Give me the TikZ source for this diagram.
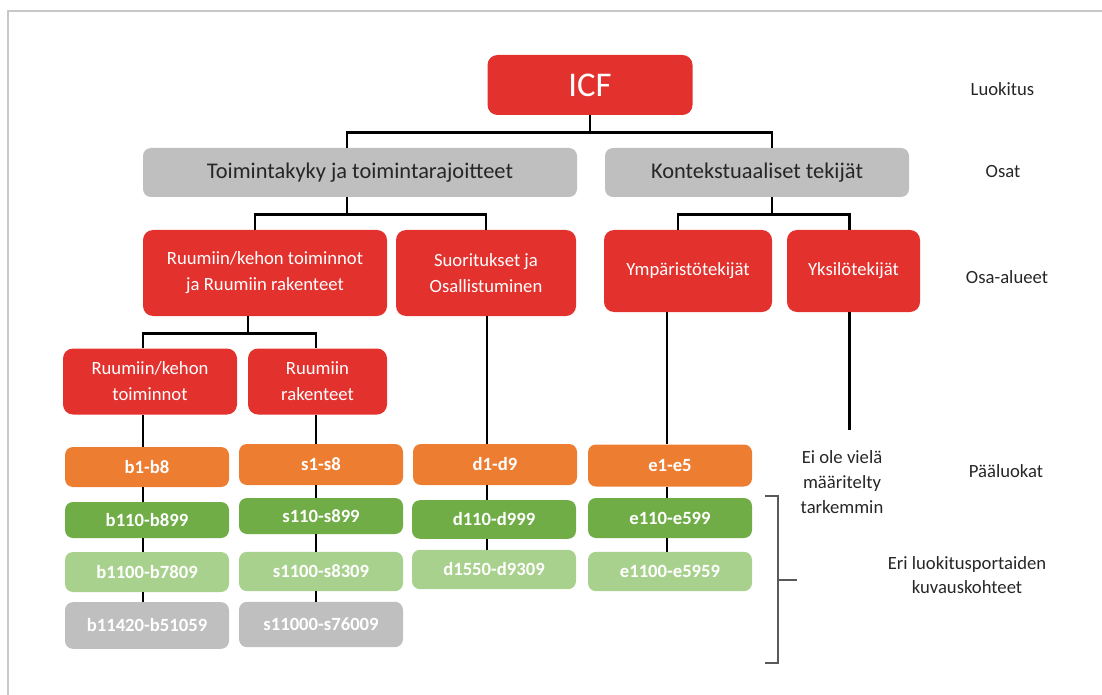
\documentclass[tikz,border=0pt]{standalone}
\usepackage{fontspec}
\setmainfont{Carlito}
\definecolor{icfred}{HTML}{E3312E}
\definecolor{partgray}{HTML}{BFBFBF}
\definecolor{codeorange}{HTML}{ED7D31}
\definecolor{codegreen}{HTML}{70AD47}
\definecolor{codelight}{HTML}{A9D18E}
\definecolor{framegray}{HTML}{C8C8C8}
\tikzset{
  redbox/.style={fill=icfred, text=white, rounded corners=7.5pt, align=center, inner sep=0pt, font=\fontsize{14}{19.5}\selectfont},
  partbox/.style={fill=partgray, text=black!85, rounded corners=6pt, inner sep=0pt, minimum height=36.75pt, font=\fontsize{16.8}{20}\selectfont},
  codebox/.style={rounded corners=6pt, text=white, inner sep=0pt, minimum width=123pt, font=\bfseries\fontsize{14}{17}\selectfont},
  levelname/.style={text=black!85, align=center, font=\fontsize{14}{18.5}\selectfont},
  link/.style={line width=2pt, black},
  bracket/.style={line width=1.5pt, black!65},
}
\begin{document}
\begin{tikzpicture}[x=0.75pt, y=-0.75pt]
  \useasboundingbox (0,0) rectangle (1102,695);
  \draw[framegray, line width=2pt] (8,695) -- (8,11) -- (1102,11);

  % upper levels
  \node[redbox, minimum width=153.75pt, minimum height=45pt, font=\fontsize{26}{30}\selectfont] (icf) at (590,85) {ICF};
  \node[partbox, minimum width=325.5pt] (g1) at (360,172.5) {Toimintakyky ja toimintarajoitteet};
  \node[partbox, minimum width=228pt] (g2) at (757,172.5) {Kontekstuaaliset tekijät};
  \node[redbox, minimum width=183pt, minimum height=64.5pt] (r1) at (265,273) {Ruumiin/kehon toiminnot\\ja Ruumiin rakenteet};
  \node[redbox, minimum width=135pt, minimum height=64.5pt] (r2) at (486,273) {Suoritukset ja\\Osallistuminen};
  \node[redbox, minimum width=126pt, minimum height=61.5pt] (r3) at (688,271) {Ympäristötekijät};
  \node[redbox, minimum width=99.75pt, minimum height=61.5pt] (r4) at (853.5,271) {Yksilötekijät};
  \node[redbox, minimum width=130.5pt, minimum height=49.5pt] (r5) at (150,381.5) {Ruumiin/kehon\\toiminnot};
  \node[redbox, minimum width=104.25pt, minimum height=49.5pt] (r6) at (317.5,381.5) {Ruumiin\\rakenteet};

  % code boxes
  \node[codebox, fill=codeorange, minimum height=30pt] (b1) at (147,467) {b1-b8};
  \node[codebox, fill=codegreen, minimum height=27pt] (b2) at (147,520) {b110-b899};
  \node[codebox, fill=codelight, minimum height=30pt] (b3) at (147,572) {b1100-b7809};
  \node[codebox, fill=partgray, minimum height=35pt] (b4) at (147,625.5) {b11420-b51059};
  \node[codebox, fill=codeorange, minimum height=30.75pt] (s1) at (321,464.5) {s1-s8};
  \node[codebox, fill=codegreen, minimum height=27pt] (s2) at (321,516) {s110-s899};
  \node[codebox, fill=codelight, minimum height=29.5pt] (s3) at (321,571.5) {s1100-s8309};
  \node[codebox, fill=partgray, minimum height=34pt] (s4) at (321,624.5) {s11000-s76009};
  \node[codebox, fill=codeorange, minimum height=30.75pt] (d1) at (495,464.5) {d1-d9};
  \node[codebox, fill=codegreen, minimum height=29pt] (d2) at (494,519.5) {d110-d999};
  \node[codebox, fill=codelight, minimum height=29.5pt] (d3) at (494,569.5) {d1550-d9309};
  \node[codebox, fill=codeorange, minimum height=31.5pt] (e1) at (670,465.5) {e1-e5};
  \node[codebox, fill=codegreen, minimum height=30pt] (e2) at (670,518) {e110-e599};
  \node[codebox, fill=codelight, minimum height=29.5pt] (e3) at (670,571.5) {e1100-e5959};

  % level names
  \node[levelname] (luokitus) at (1002.5,89) {Luokitus};
  \node[levelname] (osat) at (1003,172) {Osat};
  \node[levelname] (osaalueet) at (1007,277) {Osa-alueet};
  \node[levelname] (paaluokat) at (1006,471) {Pääluokat};
  \node[levelname] (eiole) at (842,482) {Ei ole vielä\\määritelty\\tarkemmin};
  \node[levelname] (kuvaus) at (967,575) {Eri luokitusportaiden\\kuvauskohteet};

  % tree lines
  \draw[link] (icf.south) -- ++(0,17) coordinate (t0);
  \draw[link] ([xshift=-9.75pt]g1.north) |- (t0) -| ([xshift=11.25pt]g2.north);
  \draw[link] ([xshift=-9.75pt]g1.south) -- ++(0,17) coordinate (t1);
  \draw[link] ([xshift=-7.5pt]r1.north) |- (t1) -| (r2.north);
  \draw[link] ([xshift=11.25pt]g2.south) -- ++(0,17) coordinate (t2);
  \draw[link] ([xshift=-7.5pt]r3.north) |- (t2) -| ([xshift=-3pt]r4.north);
  \draw[link] ([xshift=-12.75pt]r1.south) -- ++(0,17) coordinate (t3);
  \coordinate (bx) at (143,0);
  \coordinate (sx) at (316,0);
  \coordinate (dx) at (487,0);
  \coordinate (ex) at (667,0);
  \draw[link] (r5.north -| bx) |- (t3) -| (r6.north -| sx);
  \draw[link] ([xshift=-3pt]r4.south) -- ++(0,118) coordinate (r4end);
  \foreach \a/\b/\c in {r5/b1/bx, b1/b2/bx, b2/b3/bx, b3/b4/bx, r6/s1/sx, s1/s2/sx, s2/s3/sx, s3/s4/sx,
                        r2/d1/dx, d1/d2/dx, d2/d3/dx, r3/e1/ex, e1/e2/ex, e2/e3/ex}
    \draw[link] (\a.south -| \c) -- (\b.north -| \c);

  % bracket for the lower levels
  \draw[bracket] (765,496) -- (778,496) -- (778,663) -- (765,663);
  \draw[bracket] (778,580) -- (797,580);
\end{tikzpicture}
\end{document}
